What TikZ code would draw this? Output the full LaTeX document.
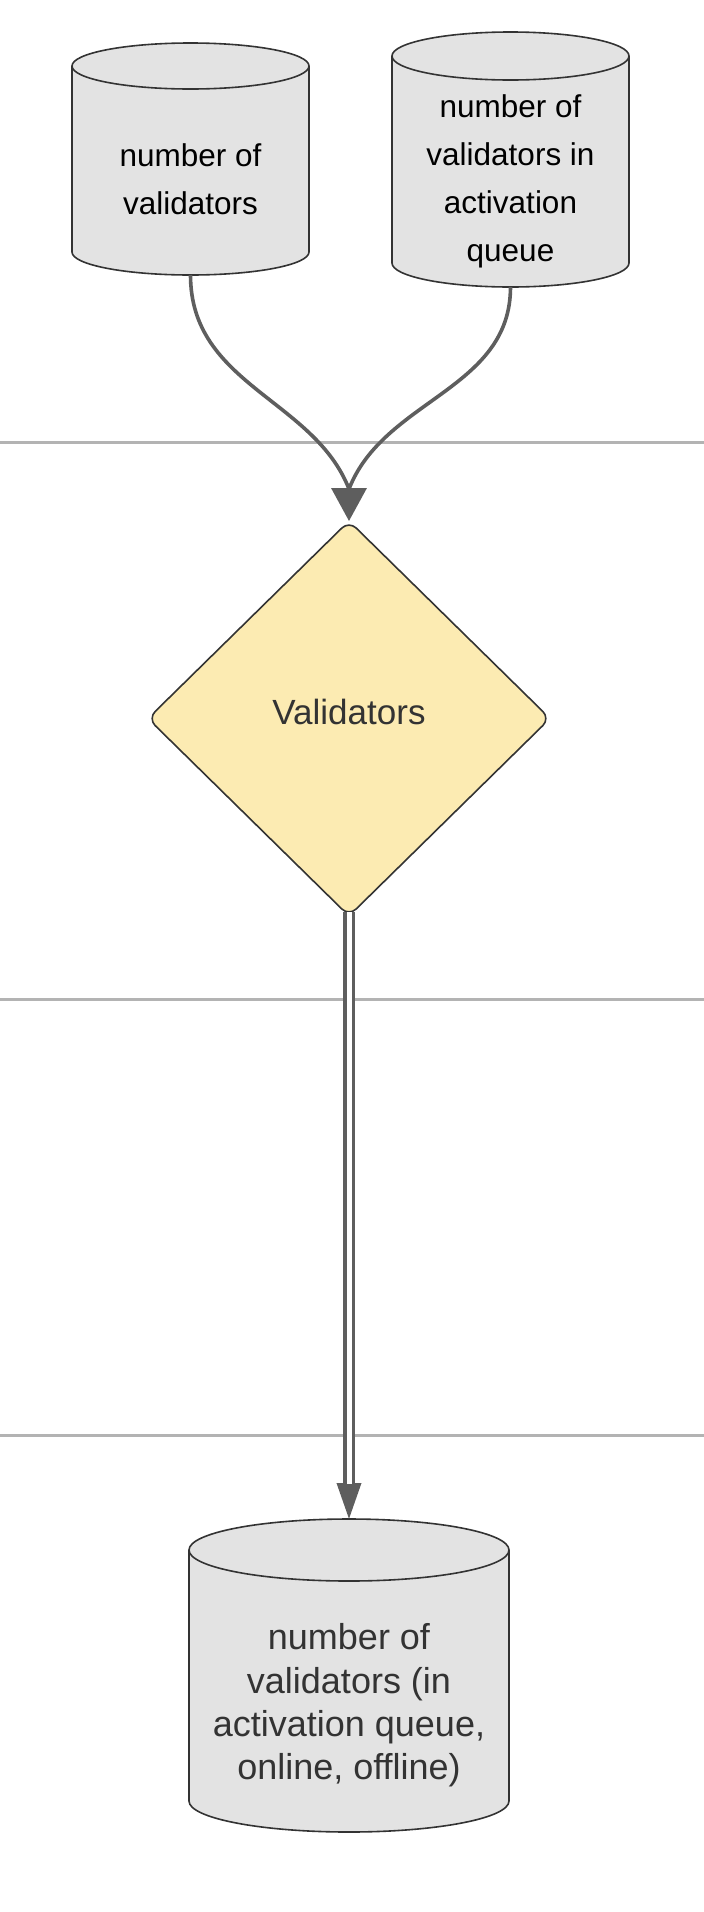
\documentclass[tikz,border=0pt]{standalone}
\usepackage{fontspec}
\setmainfont{Liberation Sans}
\usetikzlibrary{arrows.meta,shapes.geometric}
\definecolor{lanecol}{HTML}{B3B3B3}
\definecolor{conncol}{HTML}{5E5E5E}
\definecolor{strokecol}{HTML}{333333}
\definecolor{cylfill}{HTML}{E3E3E3}
\definecolor{diafill}{HTML}{FCEBB2}
\definecolor{textgray}{HTML}{333333}
% #1 node name, #2 ellipse y radius, #3 ellipse x radius
\newcommand\drawcyl[3]{%
  \filldraw[cylline] ([yshift=-#2]#1.north west) -- ([yshift=#2]#1.south west)
    arc[start angle=180,end angle=360,x radius=#3,y radius=#2]
    -- ([yshift=-#2]#1.north east)
    arc[start angle=0,end angle=180,x radius=#3,y radius=#2] -- cycle;
  \draw[cylline,fill=none] ([yshift=-#2]#1.north west)
    arc[start angle=180,end angle=360,x radius=#3,y radius=#2];}
\begin{document}
\begin{tikzpicture}[x=1pt,y=-1pt,
  lane/.style={draw=lanecol,line width=3pt},
  cylbox/.style={rectangle,draw=none,inner sep=0pt,outer sep=0pt},
  cylline/.style={draw=strokecol,fill=cylfill,line width=1.6pt},
  conn/.style={draw=conncol,line width=3.6pt},
  dblline/.style={draw=conncol,line width=3.4pt,double=white,double distance=5pt},
  toptext/.style={align=center,text=black,inner sep=0pt,font=\fontsize{31.5pt}{47.8pt}\selectfont},
  bottext/.style={align=center,text=textgray,inner sep=0pt,font=\fontsize{36pt}{43.3pt}\selectfont},
  diabox/.style={diamond,draw=strokecol,fill=diafill,line width=1.6pt,inner sep=0pt,outer sep=0pt,
    minimum width=402pt,minimum height=395pt,rounded corners=10pt}]
\path[use as bounding box,fill=white] (0,0) rectangle (704,1912);
% swimlane separators
\draw[lane] (0,442) -- (704,442);
\draw[lane] (0,999) -- (704,999);
\draw[lane] (0,1435) -- (704,1435);
% cylinders
\node[cylbox,minimum width=237pt,minimum height=232pt] (c1) at (190.5,159) {};
\node[cylbox,minimum width=237pt,minimum height=255pt] (c2) at (510.5,159.5) {};
\node[cylbox,minimum width=320pt,minimum height=313pt] (c3) at (349,1675.5) {};
\drawcyl{c1}{23pt}{118.5pt}
\drawcyl{c2}{24pt}{118.5pt}
\drawcyl{c3}{31pt}{160pt}
\node[toptext] (t1) at (190.5,179.5) {number of\\validators};
\node[toptext] (t2) at (510.5,181.5) {number of\\validators in\\activation\\queue};
\node[bottext] (t3) at (349,1705.5) {number of\\validators (in\\activation queue,\\online, offline)};
% decision
\node[diabox] (v) at (349,718.5) {};
\node[text=textgray,inner sep=0pt,font=\fontsize{35pt}{42pt}\selectfont] (vt) at (349,712) {Validators};
% connectors
\coordinate (m) at (349,489);
\draw[conn] (c1.south) .. controls +(0,110) and +(-35,-90) .. (m);
\draw[conn] (c2.south) .. controls +(0,103) and +(35,-90) .. (m);
\draw[conn,-{Triangle[length=33pt,width=35pt]}] (m) -- (v.north);
\draw[conn,-{Triangle[length=36pt,width=24pt]}] (v.south) -- (c3.north);
\draw[dblline,shorten <=-4pt,shorten >=35pt] (v.south) -- (c3.north);
\end{tikzpicture}
\end{document}
